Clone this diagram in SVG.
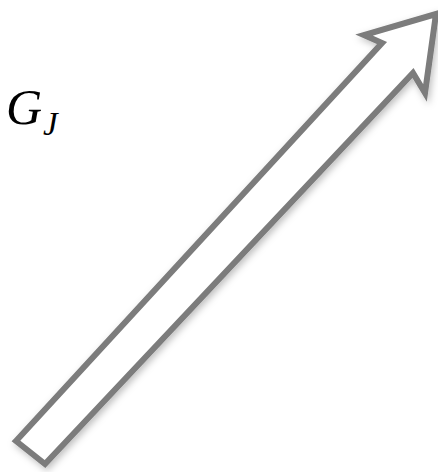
<svg xmlns="http://www.w3.org/2000/svg" width="438" height="472" viewBox="0 0 438 472">
  <style>
    .arrow { fill: #ffffff; stroke: #7b7b7b; stroke-width: 6; stroke-linejoin: miter; stroke-miterlimit: 10; }
    .lbl { font-family: "Liberation Serif", "Times New Roman", serif; font-style: italic; fill: #000000; }
  </style>
  <defs>
    <filter id="shadow" x="-10%" y="-10%" width="120%" height="120%">
      <feDropShadow dx="2" dy="3" stdDeviation="3.5" flood-color="#000000" flood-opacity="0.25"/>
    </filter>
  </defs>
  <g id="label">
    <text class="lbl" x="6" y="124" font-size="50">G</text>
    <text class="lbl" x="43" y="135" font-size="33">J</text>
  </g>
  <g id="connectors">
    <polygon id="big-arrow" class="arrow" filter="url(#shadow)" points="16,441 382,43 364,35 436,14 425,93 413,73 45,464"/>
  </g>
</svg>
